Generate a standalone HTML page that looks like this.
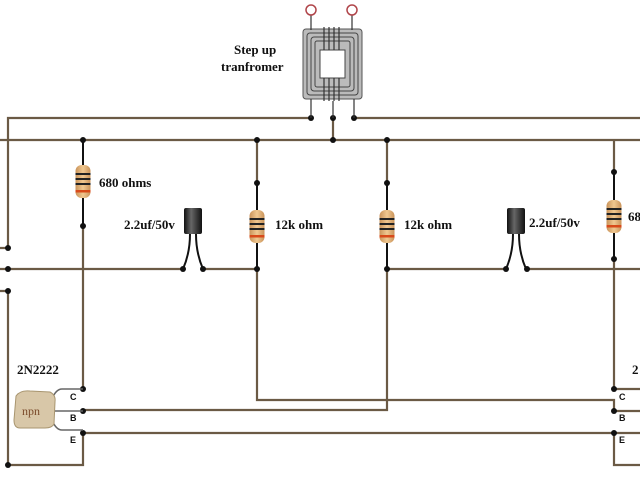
<!DOCTYPE html>
<html><head><meta charset="utf-8"><style>
html,body{margin:0;padding:0;background:#fff;width:640px;height:480px;overflow:hidden}
svg{display:block}
text{font-family:"Liberation Serif",serif;font-weight:bold;font-size:13px;fill:#111}
.w{stroke:#6b5a45;stroke-width:2.2;fill:none}
.k{stroke:#111;stroke-width:2;fill:none}
</style></head><body>
<svg width="640" height="480" viewBox="0 0 640 480">
<defs>
<linearGradient id="rg" x1="0" x2="1"><stop offset="0" stop-color="#c9935a"/><stop offset="0.5" stop-color="#f0c890"/><stop offset="1" stop-color="#c9935a"/></linearGradient>
<linearGradient id="cg" x1="0" x2="1"><stop offset="0" stop-color="#111"/><stop offset="0.4" stop-color="#666"/><stop offset="1" stop-color="#111"/></linearGradient>
<g id="res">
<rect x="-7.5" y="0" width="15" height="33" rx="6" fill="url(#rg)"/>
<rect x="-7.5" y="8" width="15" height="2" fill="#222"/>
<rect x="-7.5" y="13" width="15" height="2" fill="#222"/>
<rect x="-7.5" y="18" width="15" height="2" fill="#222"/>
<rect x="-7.5" y="25" width="15" height="2.5" fill="#d84a1a"/>
</g>
<g id="cap">
<rect x="-9" y="0" width="18" height="26" rx="2" fill="url(#cg)"/>
<path class="k" d="M-3 26 Q-3 45 -10 61 M3 26 Q3 45 10 61" stroke-width="1.6"/>
</g>
</defs>
<path class="w" d="M8 248 V118 H311 M354 118 H640"/>
<path class="w" d="M0 140 H640"/>
<path class="w" d="M333 118 V140"/>
<path class="w" d="M0 269 H183 M203 269 H257 M387 269 H506 M527 269 H640"/>
<path class="w" d="M8 291 V465 H83 V433"/>
<path class="w" d="M83 226 V389"/>
<path class="w" d="M257 140 V183 M257 269 V400 H614 V411"/>
<path class="w" d="M387 140 V183 M387 269 V410 H83"/>
<path class="w" d="M83 433 H640"/>
<path class="w" d="M614 140 V172 M614 259 V389 H640 M614 411 H640 M614 433 V465 H640"/>
<path class="w" d="M0 248 H8 M0 291 H8"/>
<path class="k" d="M83 140 V226 M257 183 V269 M387 183 V269 M614 172 V259"/>
<use href="#res" x="83" y="165"/>
<use href="#res" x="257" y="210"/>
<use href="#res" x="387" y="210"/>
<use href="#res" x="614" y="200"/>
<use href="#cap" x="193" y="208"/>
<use href="#cap" x="516" y="208"/>
<g fill="#111">
<circle cx="311" cy="118" r="3"/><circle cx="354" cy="118" r="3"/><circle cx="333" cy="118" r="3"/>
<circle cx="83" cy="140" r="3"/><circle cx="257" cy="140" r="3"/><circle cx="333" cy="140" r="3"/><circle cx="387" cy="140" r="3"/>
<circle cx="83" cy="226" r="3"/><circle cx="257" cy="183" r="3"/><circle cx="257" cy="269" r="3"/>
<circle cx="387" cy="183" r="3"/><circle cx="387" cy="269" r="3"/>
<circle cx="614" cy="172" r="3"/><circle cx="614" cy="259" r="3"/>
<circle cx="183" cy="269" r="3"/><circle cx="203" cy="269" r="3"/><circle cx="506" cy="269" r="3"/><circle cx="527" cy="269" r="3"/>
<circle cx="8" cy="248" r="3"/><circle cx="8" cy="269" r="3"/><circle cx="8" cy="291" r="3"/><circle cx="8" cy="465" r="3"/>
<circle cx="83" cy="389" r="3"/><circle cx="83" cy="411" r="3"/><circle cx="83" cy="433" r="3"/>
<circle cx="614" cy="389" r="3"/><circle cx="614" cy="411" r="3"/><circle cx="614" cy="433" r="3"/>
</g>
<rect x="303" y="29" width="59" height="70" rx="3" fill="#bbb" stroke="#555"/>
<rect x="307" y="33" width="51" height="62" rx="3" fill="none" stroke="#444"/>
<rect x="311" y="37" width="43" height="54" rx="3" fill="none" stroke="#444"/>
<rect x="315" y="41" width="35" height="46" rx="2" fill="none" stroke="#444"/>
<rect x="320" y="50" width="25" height="28" fill="#fff" stroke="#444"/>
<path stroke="#333" stroke-width="1.2" d="M324 27 V50 M329 27 V50 M334 27 V50 M339 27 V50 M324 78 V101 M329 78 V101 M334 78 V101 M339 78 V101"/>
<path stroke="#333" stroke-width="1.2" fill="none" d="M311 15 V30 M352 15 V30 M311 99 V118 M354 99 V118 M333 101 V118"/>
<circle cx="311" cy="10" r="5" fill="#fff" stroke="#b0454a" stroke-width="1.5"/>
<circle cx="352" cy="10" r="5" fill="#fff" stroke="#b0454a" stroke-width="1.5"/>
<path fill="none" stroke="#666" stroke-width="1.6" d="M52 399 Q56 389 62 389 H83 M52 411 H83 M52 420 Q56 430 62 430 H83"/>
<path d="M16 396 Q20 390 30 391 L50 392 Q56 395 55 402 L54 424 Q52 428 45 428 L20 428 Q14 428 14 420 Z" fill="#d8c7a8" stroke="#a8956f"/>
<text x="22" y="415" style="fill:#7a4a2a;font-size:12px;font-weight:normal">npn</text>
<text x="17" y="374">2N2222</text>
<text x="70" y="400" style="font-family:'Liberation Sans',sans-serif;font-size:9px">C</text>
<text x="70" y="421" style="font-family:'Liberation Sans',sans-serif;font-size:9px">B</text>
<text x="70" y="443" style="font-family:'Liberation Sans',sans-serif;font-size:9px">E</text>
<text x="619" y="400" style="font-family:'Liberation Sans',sans-serif;font-size:9px">C</text>
<text x="619" y="421" style="font-family:'Liberation Sans',sans-serif;font-size:9px">B</text>
<text x="619" y="443" style="font-family:'Liberation Sans',sans-serif;font-size:9px">E</text>
<text x="234" y="54">Step up</text>
<text x="221" y="71">tranfromer</text>
<text x="99" y="187">680 ohms</text>
<text x="124" y="229">2.2uf/50v</text>
<text x="275" y="229">12k ohm</text>
<text x="404" y="229">12k ohm</text>
<text x="529" y="227">2.2uf/50v</text>
<text x="628" y="221">68</text>
<text x="632" y="374">2</text>
</svg>
</body></html>
